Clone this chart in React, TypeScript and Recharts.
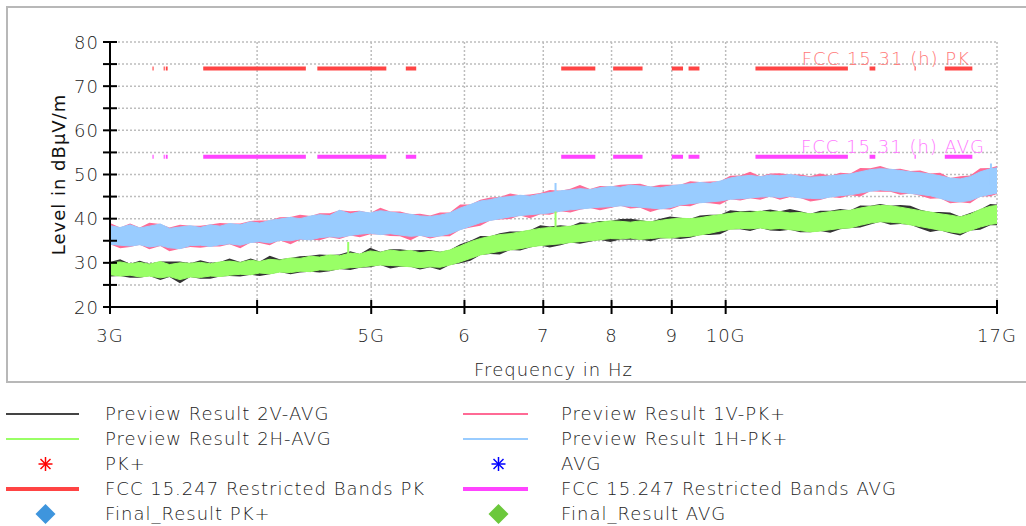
import React from "react";
import {
  ComposedChart,
  Area,
  Line,
  XAxis,
  YAxis,
  CartesianGrid,
  ReferenceLine,
  Label,
} from "recharts";

// sweep frequencies in GHz (log spaced)
const freqGHz = [
  3.0, 3.06, 3.12, 3.18, 3.24, 3.31, 3.37, 3.44, 3.51, 3.58,
  3.65, 3.72, 3.79, 3.87, 3.95, 4.02, 4.1, 4.18, 4.27, 4.35,
  4.44, 4.52, 4.61, 4.7, 4.8, 4.89, 4.99, 5.09, 5.19, 5.29,
  5.4, 5.5, 5.61, 5.72, 5.83, 5.95, 6.07, 6.19, 6.31, 6.43,
  6.56, 6.69, 6.82, 6.96, 7.09, 7.24, 7.38, 7.52, 7.67, 7.82,
  7.98, 8.14, 8.3, 8.46, 8.63, 8.8, 8.97, 9.15, 9.33, 9.51,
  9.7, 9.89, 10.09, 10.29, 10.49, 10.7, 10.91, 11.12, 11.34, 11.57,
  11.8, 12.03, 12.27, 12.51, 12.76, 13.01, 13.27, 13.53, 13.8, 14.07,
  14.35, 14.63, 14.92, 15.21, 15.51, 15.82, 16.13, 16.45, 16.78, 17.0,
];

// Preview Result 1H-PK+ (envelope of the trace)
const pk1HHigh = [
  38.4, 38.0, 38.6, 37.9, 38.3, 38.8, 37.8, 38.1, 38.4, 38.0,
  38.6, 38.3, 38.9, 38.6, 39.3, 39.0, 39.6, 39.9, 40.3, 40.0,
  40.6, 40.9, 40.7, 41.9, 41.1, 41.6, 41.3, 41.8, 41.5, 41.2,
  41.0, 40.6, 40.5, 40.8, 41.3, 42.4, 43.2, 44.0, 44.3, 44.8,
  45.0, 45.3, 45.1, 45.6, 45.9, 46.3, 46.5, 46.8, 46.6, 47.0,
  47.3, 47.1, 47.6, 47.4, 47.2, 47.0, 47.4, 47.7, 47.9, 48.2,
  48.0, 48.5, 49.2, 49.6, 49.8, 49.5, 49.9, 49.7, 50.0, 49.6,
  49.4, 49.5, 49.7, 49.9, 50.1, 50.6, 51.1, 51.3, 51.2, 50.9,
  50.6, 50.4, 50.1, 49.7, 49.2, 49.0, 49.5, 50.6, 51.3, 51.5,
];
const pk1HLow = [
  34.2, 34.0, 33.8, 34.1, 33.6, 33.9, 33.4, 33.2, 33.9, 34.0,
  33.7, 34.1, 34.3, 34.0, 34.6, 34.8, 34.5, 35.1, 35.0, 35.4,
  35.2, 35.7, 35.9, 35.8, 36.2, 36.5, 36.7, 36.4, 36.6, 36.3,
  36.0, 36.2, 35.9, 36.1, 36.6, 37.5, 38.3, 39.1, 39.6, 40.0,
  40.4, 40.7, 40.9, 41.1, 41.3, 41.7, 42.0, 42.2, 42.4, 42.6,
  42.7, 42.9, 42.8, 42.6, 42.4, 42.2, 42.5, 43.1, 43.4, 43.6,
  43.8, 44.0, 44.4, 44.5, 44.7, 44.9, 45.0, 44.8, 45.1, 44.7,
  44.6, 44.5, 44.9, 45.2, 45.4, 45.8, 46.2, 46.5, 46.3, 46.0,
  45.7, 45.5, 45.2, 44.6, 44.0, 43.8, 44.1, 45.0, 45.5, 45.8,
];

// Preview Result 1V-PK+
const pk1VHigh = [
  39.0, 38.0, 38.9, 38.0, 39.1, 38.8, 38.0, 38.6, 38.4, 38.4,
  38.7, 39.0, 38.9, 38.9, 39.5, 39.6, 39.6, 40.3, 40.4, 40.9,
  40.6, 41.2, 41.2, 41.9, 41.7, 41.8, 41.3, 42.5, 41.6, 41.6,
  41.0, 41.1, 40.7, 41.4, 41.4, 43.2, 43.2, 44.3, 44.8, 44.9,
  45.7, 45.3, 45.5, 45.8, 46.5, 46.3, 46.8, 47.6, 46.7, 47.4,
  47.3, 47.7, 47.8, 47.9, 47.2, 47.7, 47.7, 47.7, 48.5, 48.3,
  48.4, 48.5, 49.7, 49.8, 50.6, 49.6, 50.2, 50.3, 50.0, 50.0,
  49.6, 50.2, 49.7, 50.4, 50.2, 51.5, 51.4, 51.9, 51.2, 51.3,
  50.8, 50.9, 50.2, 50.4, 49.2, 49.6, 49.8, 51.4, 51.5, 51.9,
];
const pk1VLow = [
  34.2, 33.3, 33.6, 34.1, 33.1, 33.8, 32.6, 33.2, 33.6, 33.4,
  33.7, 33.7, 34.2, 33.3, 34.6, 34.5, 34.0, 35.1, 34.2, 35.2,
  35.2, 35.1, 35.8, 35.4, 36.2, 35.8, 36.5, 36.4, 36.1, 36.0,
  35.1, 36.2, 35.5, 36.0, 36.0, 37.5, 38.0, 38.4, 39.6, 39.8,
  39.9, 40.7, 40.1, 41.0, 40.9, 41.7, 41.4, 42.0, 42.4, 41.9,
  42.4, 42.9, 42.3, 42.5, 41.5, 42.2, 42.1, 42.9, 42.8, 43.6,
  43.5, 43.2, 44.4, 44.1, 44.6, 44.3, 45.0, 44.3, 44.9, 44.7,
  43.9, 44.2, 44.9, 44.7, 45.3, 45.0, 46.2, 46.1, 46.1, 45.4,
  45.7, 45.2, 44.5, 44.6, 43.5, 43.7, 43.5, 45.0, 45.1, 45.6,
];

// Preview Result 2H-AVG
const avg2HHigh = [
  30.0, 30.2, 29.8, 30.1, 29.7, 30.3, 29.6, 30.0, 29.9, 30.1,
  29.8, 30.2, 30.4, 30.1, 30.6, 30.3, 30.8, 30.6, 31.1, 31.0,
  31.5, 31.3, 31.8, 31.6, 32.2, 32.0, 32.7, 32.4, 32.9, 32.6,
  32.8, 32.3, 32.6, 32.4, 32.9, 33.8, 34.8, 35.5, 36.0, 36.4,
  36.6, 37.0, 37.4, 37.8, 38.0, 38.1, 38.3, 38.6, 38.9, 39.2,
  39.5, 39.4, 39.2, 39.5, 39.3, 39.6, 39.9, 40.1, 40.0, 40.2,
  40.6, 40.9, 41.2, 41.5, 41.4, 41.7, 41.5, 41.6, 41.3, 41.4,
  41.1, 41.3, 41.6, 41.8, 41.9, 42.4, 42.8, 43.0, 42.9, 42.6,
  42.2, 41.8, 41.5, 41.1, 40.8, 40.4, 41.0, 42.1, 42.8, 43.0,
];
const avg2HLow = [
  27.3, 27.0, 27.2, 26.8, 27.0, 26.6, 26.9, 26.2, 26.8, 26.7,
  27.0, 26.9, 27.2, 27.4, 27.3, 27.7, 27.5, 27.9, 27.8, 28.1,
  28.0, 28.4, 28.3, 28.6, 28.9, 29.0, 29.3, 29.5, 29.4, 29.3,
  29.1, 28.9, 29.1, 29.0, 29.5, 30.2, 31.0, 31.8, 32.2, 32.6,
  32.9, 33.2, 33.6, 33.9, 34.1, 34.3, 34.6, 34.8, 35.0, 35.2,
  35.5, 35.4, 35.6, 35.3, 35.5, 35.7, 35.6, 35.9, 36.0, 36.3,
  36.7, 37.2, 37.6, 37.8, 37.7, 37.9, 37.6, 37.8, 37.5, 37.3,
  37.0, 37.2, 37.5, 37.8, 37.9, 38.5, 39.0, 39.3, 39.2, 39.0,
  38.6, 38.2, 37.8, 37.4, 37.0, 36.7, 37.3, 38.1, 38.7, 38.9,
];

// Preview Result 2V-AVG
const avg2VHigh = [
  30.2, 30.8, 29.8, 30.5, 29.8, 30.3, 30.3, 30.3, 29.9, 30.6,
  30.0, 30.2, 31.0, 30.2, 31.0, 30.3, 31.6, 30.8, 31.1, 31.5,
  31.6, 31.9, 31.8, 31.9, 32.6, 32.0, 33.4, 32.5, 33.1, 33.1,
  32.8, 32.9, 32.9, 32.5, 32.9, 34.2, 35.0, 36.1, 36.0, 36.7,
  37.1, 37.1, 37.4, 38.5, 38.2, 38.5, 38.3, 39.2, 39.0, 39.5,
  39.5, 39.9, 40.0, 39.7, 39.3, 40.0, 40.5, 40.2, 40.0, 40.7,
  40.9, 40.9, 41.9, 41.7, 41.8, 41.7, 42.1, 41.7, 42.2, 41.7,
  41.1, 41.8, 41.8, 42.2, 41.9, 43.0, 42.9, 43.3, 42.9, 43.1,
  42.9, 42.0, 41.5, 41.5, 41.4, 40.5, 41.3, 42.1, 43.3, 43.2,
];
const avg2VLow = [
  26.9, 27.0, 26.6, 26.6, 27.0, 26.1, 26.8, 25.4, 26.8, 26.4,
  26.4, 26.9, 27.0, 26.9, 27.3, 27.0, 27.4, 27.9, 27.4, 27.8,
  28.0, 27.8, 28.1, 28.6, 28.4, 28.9, 29.0, 29.5, 28.7, 29.1,
  29.1, 28.5, 29.0, 28.4, 29.5, 29.9, 30.5, 31.8, 32.0, 31.9,
  32.9, 32.8, 33.5, 33.9, 33.5, 34.0, 34.6, 34.3, 34.8, 35.2,
  34.7, 35.3, 35.2, 35.3, 34.9, 35.5, 35.6, 35.4, 35.7, 36.3,
  36.3, 36.5, 37.6, 37.6, 37.2, 37.9, 37.3, 37.2, 37.5, 36.9,
  36.9, 37.2, 36.8, 37.6, 37.9, 38.0, 38.7, 39.3, 38.6, 38.8,
  38.6, 37.8, 37.0, 37.4, 36.7, 36.2, 37.3, 37.5, 38.5, 38.5,
];

// isolated narrow spikes: [GHz, from, to]
const greenSpikes = [
  [7.17, 37.0, 41.6],
  [4.78, 31.8, 34.7],
];
const blueSpikes = [
  [7.17, 45.5, 48.1],
  [16.8, 47.5, 52.5],
];

// FCC 15.205 restricted bands inside the sweep (GHz)
const restrictedBands = [
  [3.26, 3.267], [3.332, 3.339], [3.3458, 3.358], [3.6, 4.4],
  [4.5, 5.15], [5.35, 5.46], [7.25, 7.75], [8.025, 8.5],
  [9.0, 9.2], [9.3, 9.5], [10.6, 12.7], [13.25, 13.4],
  [14.47, 14.5], [15.35, 16.2],
];
const limitPK = 74;
const limitAVG = 54;

const xTicks = [3, 4, 5, 6, 7, 8, 9, 10, 17];
const xTickLabels = ["3G", "", "5G", "6", "7", "8", "9", "10G", "17G"];
const yTicks = [20, 25, 30, 35, 40, 45, 50, 55, 60, 65, 70, 75, 80];

const FONT = "DejaVu Sans";
const textStyle = {
  fontFamily: FONT,
  fontSize: 18,
  fontWeight: 200,
  fill: "#222",
  letterSpacing: 1,
};

const rows = freqGHz.map((f, i) => ({
  f,
  v1: [pk1VLow[i], pk1VHigh[i]],
  h1: [pk1HLow[i], pk1HHigh[i]],
  v2: [avg2VLow[i], avg2VHigh[i]],
  h2: [avg2HLow[i], avg2HHigh[i]],
}));

const bandLine = (level: number) =>
  restrictedBands.flatMap(([a, b]) => [
    { f: a, v: level },
    { f: b, v: level },
    { f: b, v: null },
  ]);

const spikeLine = (spikes: number[][]) =>
  spikes.flatMap(([f, lo, hi]) => [
    { f, v: lo },
    { f, v: hi },
    { f, v: null },
  ]);

function YTick(props: any) {
  const { x, y, payload } = props;
  const v = payload.value;
  return (
    <g>
      <line x1={x - 7} x2={x + 7} y1={y} y2={y} stroke="#000" strokeWidth={2} />
      {v % 10 === 0 && (
        <text x={x - 11} y={y} textAnchor="end" dominantBaseline="central" style={textStyle}>
          {v}
        </text>
      )}
    </g>
  );
}

function XTick(props: any) {
  const { x, y, payload } = props;
  const idx = xTicks.indexOf(payload.value);
  return (
    <g>
      <line x1={x} x2={x} y1={y - 7} y2={y + 7} stroke="#000" strokeWidth={2} />
      <text x={x} y={y + 28} textAnchor="middle" dominantBaseline="central" style={textStyle}>
        {xTickLabels[idx]}
      </text>
    </g>
  );
}

function limitLabel(text: string, color: string, inset: number) {
  return (p: any) => {
    const vb = p.viewBox;
    return (
      <text
        x={vb.x + vb.width - inset}
        y={vb.y - 4}
        textAnchor="end"
        style={{ ...textStyle, fill: color }}
      >
        {text}
      </text>
    );
  };
}

const legendItems = [
  { label: "Preview Result 2V-AVG", kind: "line", color: "#444444", w: 2 },
  { label: "Preview Result 1V-PK+", kind: "line", color: "#ff6a95", w: 2 },
  { label: "Preview Result 2H-AVG", kind: "line", color: "#99ff66", w: 2 },
  { label: "Preview Result 1H-PK+", kind: "line", color: "#99ccff", w: 2 },
  { label: "PK+", kind: "star", color: "#ff0000", w: 1.5 },
  { label: "AVG", kind: "star", color: "#0000ff", w: 1.5 },
  { label: "FCC 15.247 Restricted Bands PK", kind: "line", color: "#ff4444", w: 4 },
  { label: "FCC 15.247 Restricted Bands AVG", kind: "line", color: "#ff44ff", w: 4 },
  { label: "Final_Result PK+", kind: "diamond", color: "#3e95dd", w: 0 },
  { label: "Final_Result AVG", kind: "diamond", color: "#6cc83c", w: 0 },
];

function LegendIcon({ kind, color, w, width }: any) {
  const cx = width / 2 + 3;
  return (
    <svg width={width} height={24} style={{ position: "absolute", left: 0, top: 0 }}>
      {kind === "line" && <line x1={0} x2={width} y1={12} y2={12} stroke={color} strokeWidth={w} />}
      {kind === "star" && (
        <g stroke={color} strokeWidth={w}>
          <line x1={cx} x2={cx} y1={5} y2={19} />
          <line x1={cx - 7} x2={cx + 7} y1={12} y2={12} />
          <line x1={cx - 5} x2={cx + 5} y1={7} y2={17} />
          <line x1={cx - 5} x2={cx + 5} y1={17} y2={7} />
        </g>
      )}
      {kind === "diamond" && (
        <polygon
          points={`${cx},2 ${cx + 10},12 ${cx},22 ${cx - 10},12`}
          fill={color}
        />
      )}
    </svg>
  );
}

function ChartLegend() {
  const cols = [
    { iconLeft: 6, iconWidth: 73, textLeft: 105 },
    { iconLeft: 463, iconWidth: 65, textLeft: 561 },
  ];
  return (
    <>
      {legendItems.map((it, i) => {
        const col = cols[i % 2];
        const row = Math.floor(i / 2);
        const top = 414 + row * 25 - 12;
        return (
          <div key={it.label}>
            <div style={{ position: "absolute", left: col.iconLeft, top, width: col.iconWidth, height: 24 }}>
              <LegendIcon kind={it.kind} color={it.color} w={it.w} width={col.iconWidth} />
            </div>
            <div
              style={{
                position: "absolute",
                left: col.textLeft,
                top,
                height: 24,
                lineHeight: "24px",
                fontFamily: FONT,
                fontSize: 18,
                fontWeight: 200,
                letterSpacing: 1,
                color: "#222",
                whiteSpace: "nowrap",
              }}
            >
              {it.label}
            </div>
          </div>
        );
      })}
    </>
  );
}

export default function App() {
  return (
    <div
      style={{
        position: "absolute",
        left: 0,
        top: 0,
        width: 1026,
        height: 526,
        background: "#fff",
        overflow: "hidden",
      }}
    >
      <div
        style={{
          position: "absolute",
          left: 6,
          top: 6,
          width: 1040,
          height: 373,
          border: "2px solid #b8b8b8",
        }}
      />
      <div style={{ position: "absolute", left: 0, top: 0 }}>
        <ComposedChart
          width={1026}
          height={390}
          data={rows}
          margin={{ top: 42, right: 29, bottom: 0, left: 0 }}
        >
          <CartesianGrid stroke="#bdbdbd" strokeWidth={1.5} strokeDasharray="2 2" />
          <XAxis
            dataKey="f"
            type="number"
            scale="log"
            domain={[3, 17]}
            allowDataOverflow
            ticks={xTicks}
            interval={0}
            height={83}
            tickSize={0}
            tickMargin={0}
            tick={<XTick />}
            axisLine={{ stroke: "#000", strokeWidth: 2 }}
            tickLine={false}
          >
            <Label
              content={(p: any) => (
                <text
                  x={p.viewBox.x + p.viewBox.width / 2}
                  y={369}
                  textAnchor="middle"
                  dominantBaseline="central"
                  style={textStyle}
                >
                  Frequency in Hz
                </text>
              )}
            />
          </XAxis>
          <YAxis
            type="number"
            domain={[20, 80]}
            allowDataOverflow
            ticks={yTicks}
            interval={0}
            width={110}
            tickSize={0}
            tickMargin={0}
            tick={<YTick />}
            axisLine={{ stroke: "#000", strokeWidth: 2 }}
            tickLine={false}
          >
            <Label
              content={(p: any) => {
                const cx = 58;
                const cy = p.viewBox.y + p.viewBox.height / 2;
                return (
                  <text
                    x={cx}
                    y={cy}
                    transform={`rotate(-90 ${cx} ${cy})`}
                    textAnchor="middle"
                    dominantBaseline="central"
                    style={{ ...textStyle, fontWeight: 400, fill: "#111" }}
                  >
                    Level in dBµV/m
                  </text>
                );
              }}
            />
          </YAxis>

          <Area type="linear" dataKey="v1" stroke="none" fill="#ff6a95" fillOpacity={1} isAnimationActive={false} dot={false} activeDot={false} />
          <Area type="linear" dataKey="h1" stroke="#99ccff" strokeWidth={1} fill="#99ccff" fillOpacity={1} isAnimationActive={false} dot={false} activeDot={false} />
          <Area type="linear" dataKey="v2" stroke="none" fill="#333333" fillOpacity={1} isAnimationActive={false} dot={false} activeDot={false} />
          <Area type="linear" dataKey="h2" stroke="#99ff66" strokeWidth={1} fill="#99ff66" fillOpacity={1} isAnimationActive={false} dot={false} activeDot={false} />

          <Line data={spikeLine(blueSpikes)} dataKey="v" stroke="#99ccff" strokeWidth={2} dot={false} activeDot={false} isAnimationActive={false} />
          <Line data={spikeLine(greenSpikes)} dataKey="v" stroke="#99ff66" strokeWidth={2} dot={false} activeDot={false} isAnimationActive={false} />

          <Line data={bandLine(limitPK)} dataKey="v" stroke="#ff4444" strokeWidth={4} dot={false} activeDot={false} isAnimationActive={false} />
          <Line data={bandLine(limitAVG)} dataKey="v" stroke="#ff44ff" strokeWidth={4} dot={false} activeDot={false} isAnimationActive={false} />

          <ReferenceLine y={limitPK} stroke="none" label={limitLabel("FCC 15.31 (h) PK", "#ff7777", 27)} />
          <ReferenceLine y={limitAVG} stroke="none" label={limitLabel("FCC 15.31 (h) AVG", "#ff77ff", 12)} />
        </ComposedChart>
      </div>
      <ChartLegend />
    </div>
  );
}
